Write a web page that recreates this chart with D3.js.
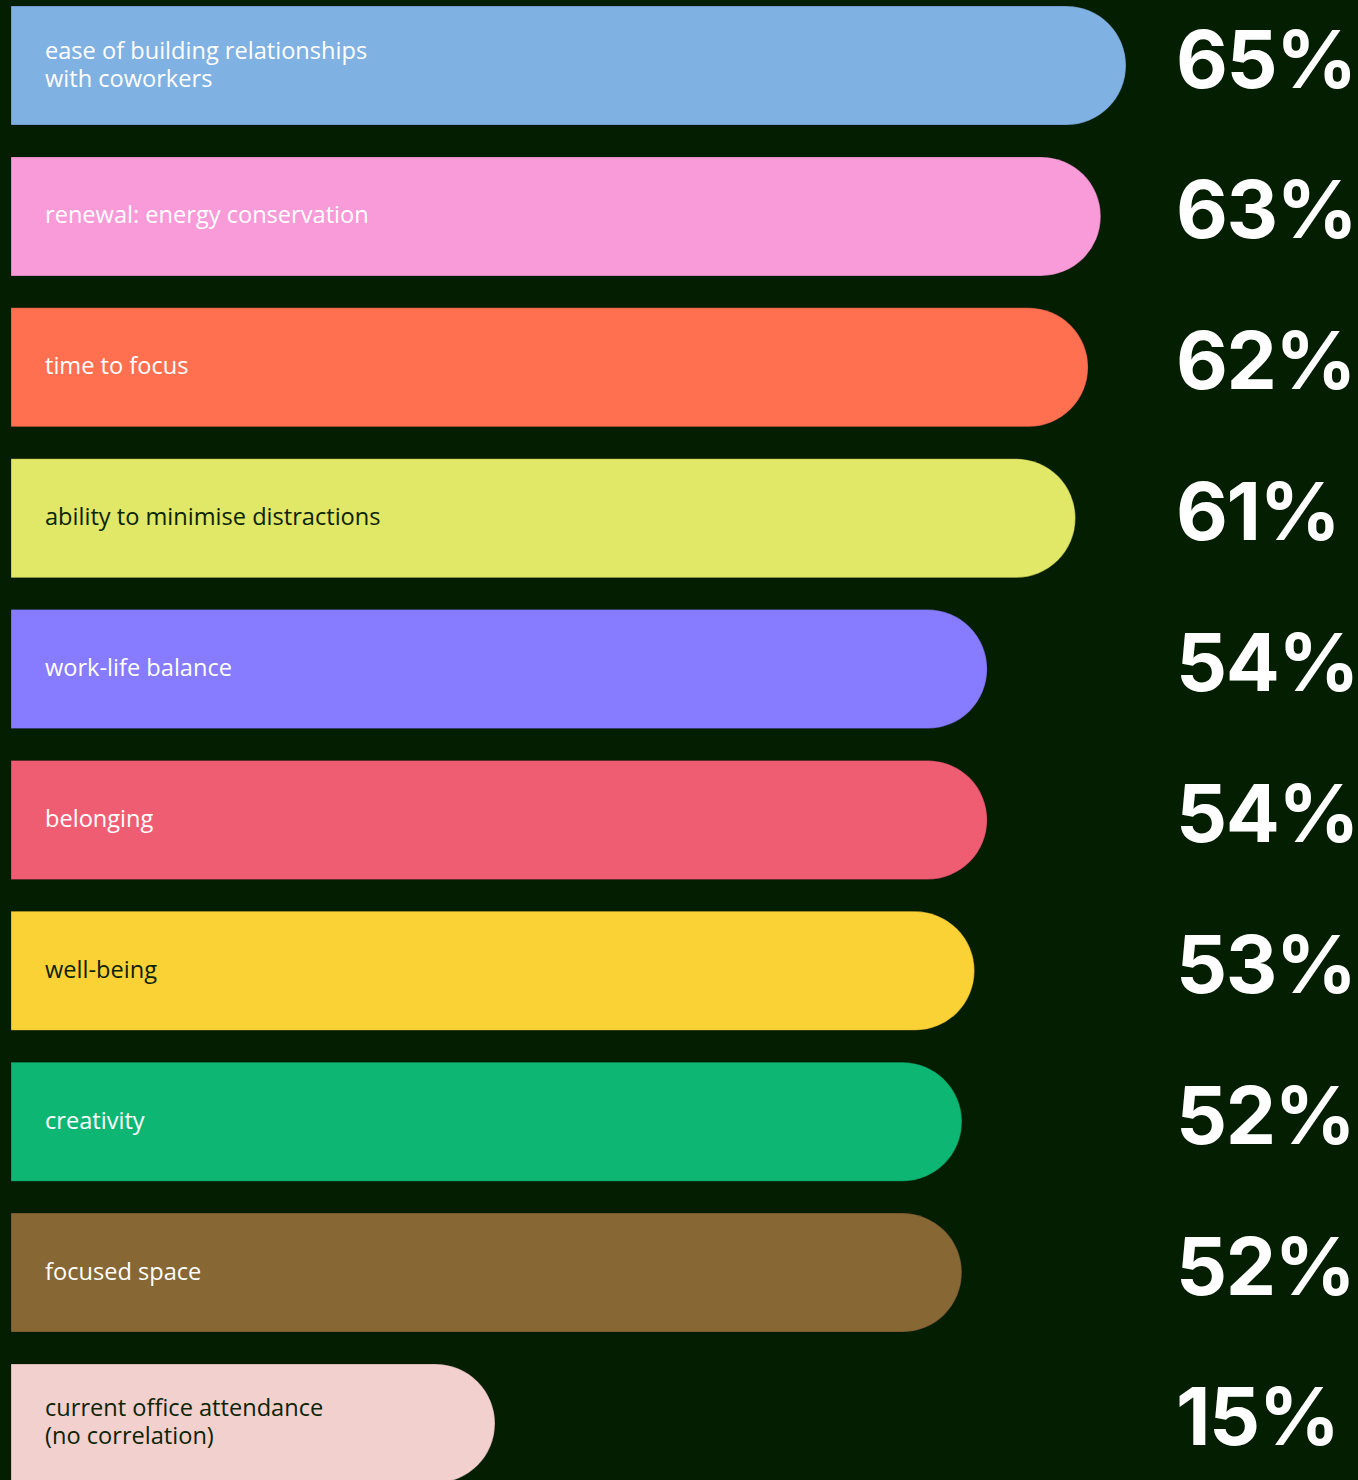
<!DOCTYPE html>
<html>
<head>
<meta charset="utf-8">
<script src="https://cdn.jsdelivr.net/npm/d3@7"></script>
<style>
  html, body { margin: 0; padding: 0; background: #041e01; }
  svg { display: block; }
</style>
</head>
<body>
<div id="chart"></div>
<script>
var categories = [
  ['ease of building relationships', 'with coworkers'],
  ['renewal: energy conservation'],
  ['time to focus'],
  ['ability to minimise distractions'],
  ['work-life balance'],
  ['belonging'],
  ['well-being'],
  ['creativity'],
  ['focused space'],
  ['current office attendance', '(no correlation)']
];
var values = [65, 63, 62, 61, 54, 54, 53, 52, 52, 15];
var colors = ['#80b1e3', '#f99ad9', '#ff7050', '#e1e766', '#877bff',
              '#ef5d72', '#fbd236', '#0eb673', '#876734', '#f2d0ce'];
var labelColors = ['#ffffff', '#ffffff', '#ffffff', '#0b2405', '#ffffff',
                   '#ffffff', '#0b2405', '#ffffff', '#ffffff', '#0b2405'];

var width = 1358, height = 1480;
var x0 = 11;

var svg = d3.select('#chart')
    .append('svg')
    .attr('width', width)
    .attr('height', height);

svg.append('rect')
    .attr('width', width)
    .attr('height', height)
    .attr('fill', '#041e01');

var idx = d3.range(values.length);

var y = d3.scaleBand()
    .domain(idx)
    .range([6, 1483])
    .paddingInner(0.2113);

var x = d3.scaleLinear()
    .domain([15, 65])
    .range([495, 1126]);

function barPath(i) {
    var top = y(i), h = y.bandwidth(), r = h / 2, xr = x(values[i]);
    return 'M' + x0 + ',' + top +
        'H' + (xr - r) +
        'A' + r + ',' + r + ' 0 0 1 ' + (xr - r) + ',' + (top + h) +
        'H' + x0 + 'Z';
}

var rows = svg.selectAll('.row')
    .data(idx)
    .enter().append('g')
    .classed('row', true);

rows.append('path')
    .attr('d', barPath)
    .attr('fill', function (i) { return colors[i]; })
    .attr('stroke', 'rgba(0,0,0,0.22)')
    .attr('stroke-width', 1);

rows.append('text')
    .attr('x', 45)
    .attr('fill', function (i) { return labelColors[i]; })
    .style('font-family', '"Open Sans", "Noto Sans", sans-serif')
    .style('font-size', '23.6px')
    .each(function (i) {
        var lines = categories[i];
        var mid = y(i) + y.bandwidth() / 2;
        var first = mid + 7 - (lines.length - 1) * 14;
        d3.select(this).selectAll('tspan')
            .data(lines)
            .enter().append('tspan')
            .attr('x', 45)
            .attr('y', function (d, k) { return first + k * 28; })
            .text(function (d) { return d; });
    });

rows.append('text')
    .attr('x', 1176)
    .attr('y', function (i) { return y(i) + y.bandwidth() / 2 + 22; })
    .attr('fill', '#ffffff')
    .style('font-family', 'Inter, Roboto, sans-serif')
    .style('font-weight', 700)
    .style('font-size', '80px')
    .style('letter-spacing', '-1.5px')
    .text(function (i) { return values[i] + '%'; });
</script>
</body>
</html>
